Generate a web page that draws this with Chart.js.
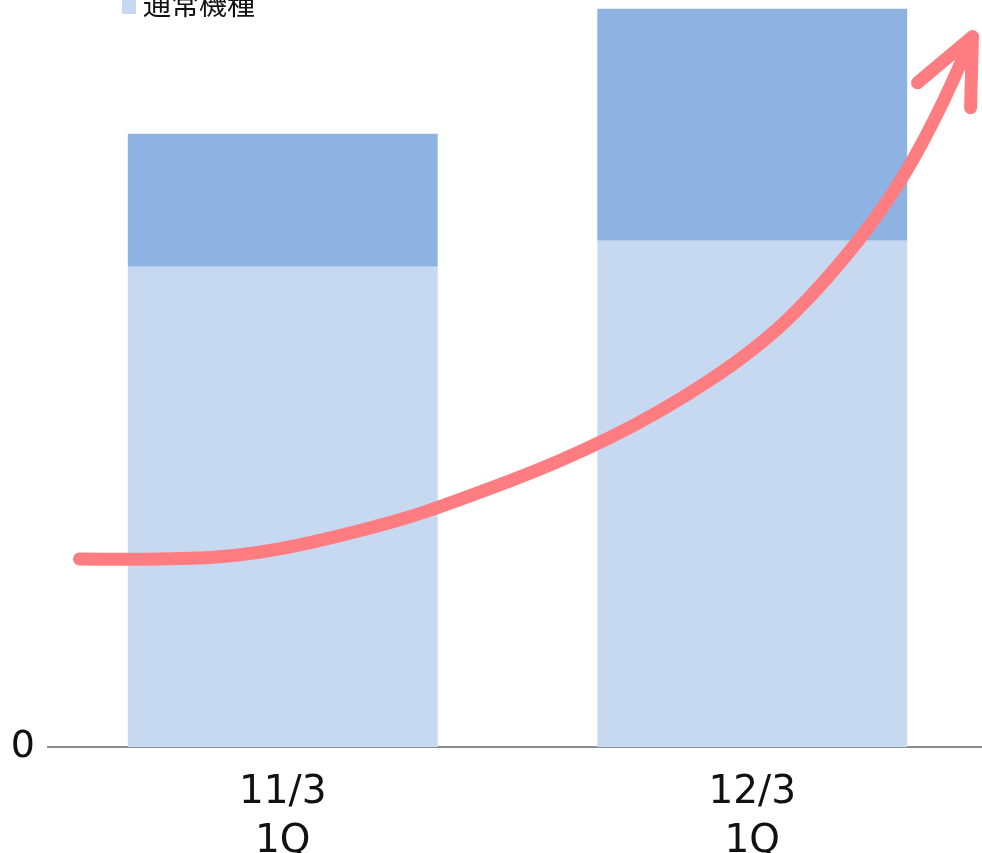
<!DOCTYPE html>
<html>
<head>
<meta charset="utf-8">
<script src="https://cdn.jsdelivr.net/npm/chart.js@4"></script>
<style>
  html, body { margin: 0; padding: 0; background: #fff; overflow: hidden; }
  #wrap { position: relative; width: 987px; height: 853px; }
</style>
</head>
<body>
<div id="wrap"><canvas id="salesChart"></canvas></div>
<script>
// 四半期ごとの販売台数（積み上げ）
const quarters = [["11/3", "1Q"], ["12/3", "1Q"]];
const regularUnits = [4.80, 5.06];
const smartUnits = [1.33, 2.32];

// 右肩上がりの矢印（カテゴリ位置, 値）
const trendPath = [
    [-0.433, 1.88], [-0.262, 1.87], [-0.049, 1.92], [0.235, 2.24],
    [0.377, 2.47], [0.591, 2.85], [0.804, 3.34], [1.017, 4.00],
    [1.160, 4.67], [1.294, 5.47], [1.390, 6.27], [1.469, 7.10],
];
const arrowBarbs = [[1.352, 6.64], [1.465, 6.39]];

const numFont = "'DejaVu Sans', sans-serif";
const jpFont = "'Noto Sans CJK JP', sans-serif";

// 凡例（左上に通常機種のみ）
const legendPlugin = {
    id: "topLegend",
    afterDraw(chart) {
        const ds = chart.data.datasets[0];
        const ctx = chart.ctx;
        ctx.save();
        ctx.fillStyle = ds.backgroundColor;
        ctx.fillRect(122, -2, 14, 16);
        ctx.fillStyle = "#111";
        ctx.font = "28px " + jpFont;
        ctx.textBaseline = "middle";
        ctx.fillText(ds.label, 143, 4);
        ctx.restore();
    },
};

// 矢印
const arrowPlugin = {
    id: "trendArrow",
    afterDatasetsDraw(chart) {
        const { ctx, scales } = chart;
        const pt = ([i, v]) => [scales.x.getPixelForValue(i), scales.y.getPixelForValue(v)];
        const pts = trendPath.map(pt);
        ctx.save();
        ctx.strokeStyle = "#FF7C80";
        ctx.lineWidth = 13;
        ctx.lineCap = "round";
        ctx.lineJoin = "round";
        ctx.beginPath();
        ctx.moveTo(pts[0][0], pts[0][1]);
        for (let i = 1; i < pts.length - 1; i++) {
            const mx = (pts[i][0] + pts[i + 1][0]) / 2;
            const my = (pts[i][1] + pts[i + 1][1]) / 2;
            ctx.quadraticCurveTo(pts[i][0], pts[i][1], mx, my);
        }
        const tip = pts[pts.length - 1];
        ctx.lineTo(tip[0], tip[1]);
        ctx.stroke();
        ctx.beginPath();
        arrowBarbs.map(pt).forEach(([bx, by]) => {
            ctx.moveTo(bx, by);
            ctx.lineTo(tip[0], tip[1]);
        });
        ctx.stroke();
        ctx.restore();
    },
};

new Chart(document.getElementById("salesChart"), {
    type: "bar",
    data: {
        labels: quarters,
        datasets: [
            {
                label: "通常機種",
                data: regularUnits,
                backgroundColor: "#C6D9F1",
                barPercentage: 0.66,
                categoryPercentage: 1,
                clip: false,
            },
            {
                label: "スマートフォン",
                data: smartUnits,
                backgroundColor: "#8EB3E2",
                barPercentage: 0.66,
                categoryPercentage: 1,
                clip: false,
            },
        ],
    },
    options: {
        responsive: true,
        maintainAspectRatio: false,
        animation: false,
        devicePixelRatio: 1,
        layout: { padding: { top: 0, left: 0, right: 0, bottom: 0 } },
        plugins: {
            legend: { display: false },
            tooltip: { enabled: false },
        },
        scales: {
            x: {
                stacked: true,
                grid: { display: false },
                border: { color: "#8c8c8c", width: 2 },
                ticks: {
                    color: "#111",
                    padding: 14,
                    font: { family: numFont, size: 39, lineHeight: 1.24 },
                },
                afterFit: (axis) => { axis.height = 106; },
            },
            y: {
                stacked: true,
                min: 0,
                max: 7.19,
                grid: { display: false },
                border: { display: false },
                afterBuildTicks: (axis) => { axis.ticks = [{ value: 0 }]; },
                ticks: {
                    color: "#111",
                    padding: 5,
                    font: { family: numFont, size: 38 },
                },
                afterFit: (axis) => { axis.width = 48; },
            },
        },
    },
    plugins: [legendPlugin, arrowPlugin],
});
</script>
</body>
</html>
